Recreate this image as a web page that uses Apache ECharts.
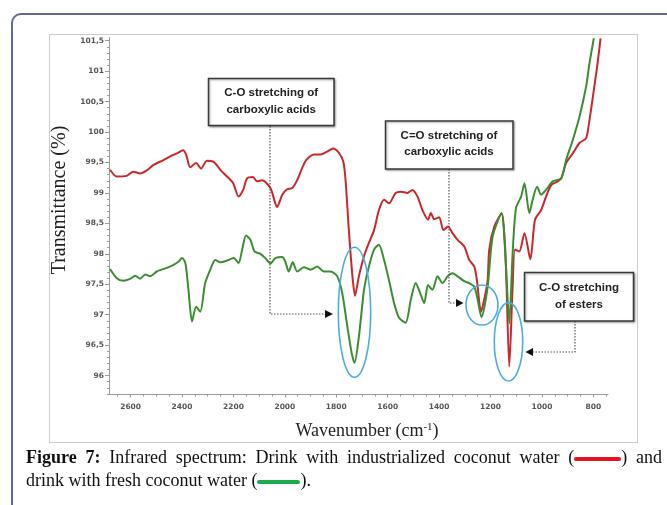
<!DOCTYPE html>
<html>
<head>
<meta charset="utf-8">
<script src="https://cdn.jsdelivr.net/npm/echarts@6/dist/echarts.min.js"></script>
<style>
html,body{margin:0;padding:0;background:#fff;}
#wrap{position:relative;width:667px;height:505px;overflow:hidden;background:#fff;}
#outer{position:absolute;left:11px;top:13px;width:720px;height:600px;border:2px solid #64669c;border-radius:10px;box-sizing:border-box;}
#inner{position:absolute;left:49px;top:34px;width:589px;height:409px;border:1px solid #cdcdcd;box-sizing:border-box;}
#chart{position:absolute;left:0;top:0;width:667px;height:505px;}
.cap{position:absolute;left:26px;width:636px;font-family:"Liberation Serif","Times New Roman",serif;font-size:18px;line-height:23px;color:#111;white-space:nowrap;}
#cap1{top:446px;text-align:justify;text-align-last:justify;}
#cap2{top:469px;}
.bar{display:inline-block;height:4px;vertical-align:middle;border-radius:2px;}
</style>
</head>
<body>
<div id="wrap">
  <div id="outer"></div>
  <div id="inner"></div>
  <div id="chart"></div>
  <div class="cap" id="cap1"><b>Figure 7:</b> Infrared spectrum: Drink with industrialized coconut water (<span class="bar" style="width:47px;background:#e3121c;"></span>) and</div>
  <div class="cap" id="cap2">drink with fresh coconut water (<span class="bar" style="width:43px;background:#1aab4b;"></span>).</div>
</div>
<script>
// ---- data (wavenumber cm-1, transmittance %) ----
const redWn = [2680,2654,2615,2589,2563,2537,2511,2472,2446,2420,2396,2384,2368,2345,2326,2303,2277,2251,2225,2201,2180,2162,2147,2124,2108,2088,2056,2030,2010,1991,1971,1952,1920,1887,1861,1835,1812,1790,1773,1764,1751,1737,1727,1712,1692,1673,1653,1634,1614,1595,1569,1549,1523,1504,1484,1465,1443,1432,1419,1400,1383,1365,1348,1328,1302,1283,1263,1253,1237,1222,1211,1205,1185,1157,1146,1140,1127,1114,1105,1088,1068,1045,1027,1003,984,964,938,925,906,880,854,828,815,796,782,772];
const redT = [99.38,99.27,99.28,99.35,99.32,99.37,99.46,99.54,99.60,99.65,99.70,99.63,99.42,99.49,99.40,99.53,99.51,99.38,99.27,99.16,98.94,99.05,99.24,99.26,99.19,99.21,99.08,98.77,98.97,99.06,99.08,99.21,99.52,99.63,99.63,99.68,99.73,99.66,99.52,99.22,98.39,97.63,97.31,97.63,97.96,98.18,98.39,98.72,98.89,98.83,99.00,99.02,99.00,99.05,98.94,98.72,98.56,98.67,98.57,98.60,98.39,98.45,98.34,98.23,98.12,97.90,97.79,97.57,97.05,97.30,97.57,98.07,98.45,98.66,98.28,97.82,96.15,97.46,98.07,98.04,98.34,97.91,98.56,98.72,98.94,99.13,99.19,99.24,99.49,99.65,99.82,99.90,100.20,100.75,101.18,101.54];
const greenWn = [2680,2654,2628,2602,2582,2563,2543,2524,2498,2459,2433,2414,2400,2387,2375,2361,2345,2329,2310,2290,2271,2251,2225,2199,2180,2166,2151,2134,2118,2095,2076,2056,2037,2010,1998,1985,1969,1952,1926,1900,1874,1848,1822,1796,1777,1757,1740,1729,1712,1692,1673,1653,1634,1614,1595,1575,1556,1530,1510,1491,1474,1458,1443,1426,1406,1387,1367,1348,1328,1302,1283,1263,1250,1235,1211,1192,1157,1140,1127,1114,1101,1081,1068,1049,1036,1019,1003,984,958,925,906,880,854,828,815,798];
const greenT = [97.75,97.60,97.56,97.59,97.64,97.59,97.66,97.63,97.71,97.77,97.82,97.87,97.93,97.85,97.41,96.89,97.13,97.05,97.52,97.74,97.90,97.86,97.89,97.93,97.85,98.07,98.30,98.23,98.04,98.00,97.93,97.84,97.93,97.95,97.87,97.71,97.86,97.71,97.78,97.74,97.79,97.71,97.71,97.63,97.36,96.81,96.37,96.21,96.64,97.41,97.79,98.07,98.15,97.90,97.57,97.19,96.95,96.87,97.25,97.52,97.36,97.19,97.49,97.41,97.63,97.52,97.63,97.68,97.63,97.55,97.52,97.46,97.25,96.96,97.46,98.28,98.67,97.79,96.86,98.01,98.75,98.94,99.16,98.67,98.89,99.10,98.97,99.05,99.19,99.24,99.54,99.87,100.25,100.75,101.13,101.54];

// ---- tick labels ----
const xTicks = [2600,2400,2200,2000,1800,1600,1400,1200,1000,800];
const yTicks = [96,96.5,97,97.5,98,98.5,99,99.5,100,100.5,101,101.5];

const X_MIN = 743, X_MAX = 2684, Y_MIN = 95.69, Y_MAX = 101.55;

const xMinor = [];
for (let v = 750; v <= 2650; v += 50) xMinor.push(v);
const yMinor = [];
for (let i = 957; i <= 1015; i++) yMinor.push(i / 10);

const zip = (a, b) => a.map((v, i) => [v, b[i]]);

const chart = echarts.init(document.getElementById('chart'), null, {renderer: 'canvas'});
const axisGray = '#9c9c9c';
const tickFont = {fontSize: 7.5, fontWeight: 'bold', color: '#555', fontFamily: '"DejaVu Sans", Verdana, sans-serif'};

const option = {
  animation: false,
  grid: {left: 109, right: 59, top: 37.66, bottom: 110.5, containLabel: false},
  xAxis: [
    {type: 'value', min: X_MIN, max: X_MAX, inverse: true, position: 'bottom',
     axisLine: {lineStyle: {color: axisGray, width: 1}},
     axisTick: {customValues: xTicks, length: 3, lineStyle: {color: axisGray}},
     axisLabel: Object.assign({customValues: xTicks, margin: 9, formatter: v => String(v)}, tickFont),
     splitLine: {show: false}},
    {type: 'value', min: X_MIN, max: X_MAX, inverse: true, position: 'bottom',
     axisLine: {show: false},
     axisTick: {customValues: xMinor, length: 2, lineStyle: {color: axisGray}},
     axisLabel: {show: false}, splitLine: {show: false}}
  ],
  yAxis: [
    {type: 'value', min: Y_MIN, max: Y_MAX, position: 'left',
     axisLine: {show: true, lineStyle: {color: axisGray, width: 1}},
     axisTick: {show: true, customValues: yTicks, length: 4, lineStyle: {color: axisGray}},
     axisLabel: Object.assign({customValues: yTicks, margin: 5,
       formatter: v => String(v).replace('.', ',')}, tickFont),
     splitLine: {show: false}},
    {type: 'value', min: Y_MIN, max: Y_MAX, position: 'left',
     axisLine: {show: false},
     axisTick: {show: true, customValues: yMinor, length: 2, lineStyle: {color: axisGray}},
     axisLabel: {show: false}, splitLine: {show: false}}
  ],
  series: [
    {name: 'Industrialized', type: 'line', xAxisIndex: 0, yAxisIndex: 0,
     data: zip(redWn, redT), showSymbol: false, smooth: 0.25,
     lineStyle: {color: '#c9282b', width: 2}, z: 2},
    {name: 'Fresh', type: 'line', xAxisIndex: 0, yAxisIndex: 0,
     data: zip(greenWn, greenT), showSymbol: false, smooth: 0.25,
     lineStyle: {color: '#3b8d32', width: 2}, z: 3}
  ],
  graphic: [
    // axis titles
    {type: 'text', x: 60, y: 200, rotation: Math.PI / 2, z: 10,
     style: {text: 'Transmittance (%)', font: '20px "Liberation Serif", serif', fill: '#222',
             align: 'center', verticalAlign: 'middle'}},
    {type: 'text', x: 367, y: 431, z: 10,
     style: {text: '{a|Wavenumber (cm}{s|-1}{a|)}', align: 'center', verticalAlign: 'middle',
             rich: {a: {fontSize: 18, fontFamily: '"Liberation Serif", serif', fill: '#222'},
                    s: {fontSize: 11, fontFamily: '"Liberation Serif", serif', fill: '#222', verticalAlign: 'top'}}}},
    // ellipses
    {type: 'ellipse', z: 20, shape: {cx: 354.5, cy: 312.3, rx: 16.2, ry: 65},
     style: {fill: 'none', stroke: '#4aaee0', lineWidth: 1.6}},
    {type: 'ellipse', z: 20, shape: {cx: 482, cy: 305, rx: 16, ry: 20},
     style: {fill: 'none', stroke: '#4aaee0', lineWidth: 1.6}},
    {type: 'ellipse', z: 20, shape: {cx: 508.5, cy: 341.8, rx: 14.2, ry: 39.2},
     style: {fill: 'none', stroke: '#4aaee0', lineWidth: 1.6}},
    // connectors
    {type: 'polyline', z: 15, shape: {points: [[270, 126], [270, 314], [326, 314]]},
     style: {fill: null, stroke: '#555', lineWidth: 1.2, lineDash: [1.5, 1.5]}},
    {type: 'polygon', z: 15, shape: {points: [[333, 314], [325, 310], [325, 318]]}, style: {fill: '#111'}},
    {type: 'polyline', z: 15, shape: {points: [[449, 169], [449, 303], [457, 303]]},
     style: {fill: null, stroke: '#555', lineWidth: 1.2, lineDash: [1.5, 1.5]}},
    {type: 'polygon', z: 15, shape: {points: [[463.5, 303], [456, 299], [456, 307]]}, style: {fill: '#111'}},
    {type: 'polyline', z: 15, shape: {points: [[575, 321], [575, 352], [532, 352]]},
     style: {fill: null, stroke: '#555', lineWidth: 1.2, lineDash: [1.5, 1.5]}},
    {type: 'polygon', z: 15, shape: {points: [[525.5, 352], [533, 348], [533, 356]]}, style: {fill: '#111'}},
    // boxes
    {type: 'rect', z: 16, shape: {x: 208.5, y: 78.5, width: 125.5, height: 47},
     style: {fill: '#fff', stroke: '#3a3a3a', lineWidth: 1.5, shadowBlur: 2, shadowColor: 'rgba(0,0,0,0.35)', shadowOffsetX: 1, shadowOffsetY: 1}},
    {type: 'text', z: 17, x: 271.2, y: 101.5,
     style: {text: 'C-O stretching of\ncarboxylic acids', font: 'bold 11.5px "Liberation Sans", Arial, sans-serif',
             fill: '#222', align: 'center', verticalAlign: 'middle', lineHeight: 17}},
    {type: 'rect', z: 16, shape: {x: 385.5, y: 121, width: 127.5, height: 48},
     style: {fill: '#fff', stroke: '#3a3a3a', lineWidth: 1.5, shadowBlur: 2, shadowColor: 'rgba(0,0,0,0.35)', shadowOffsetX: 1, shadowOffsetY: 1}},
    {type: 'text', z: 17, x: 449, y: 144,
     style: {text: 'C=O stretching of\ncarboxylic acids', font: 'bold 11.5px "Liberation Sans", Arial, sans-serif',
             fill: '#222', align: 'center', verticalAlign: 'middle', lineHeight: 16}},
    {type: 'rect', z: 16, shape: {x: 524.5, y: 272.5, width: 109, height: 48.5},
     style: {fill: '#fff', stroke: '#3a3a3a', lineWidth: 1.5, shadowBlur: 2, shadowColor: 'rgba(0,0,0,0.35)', shadowOffsetX: 1, shadowOffsetY: 1}},
    {type: 'text', z: 17, x: 579, y: 296.7,
     style: {text: 'C-O stretching\nof esters', font: 'bold 11.5px "Liberation Sans", Arial, sans-serif',
             fill: '#222', align: 'center', verticalAlign: 'middle', lineHeight: 17}}
  ]
};
chart.setOption(option);
</script>
</body>
</html>
